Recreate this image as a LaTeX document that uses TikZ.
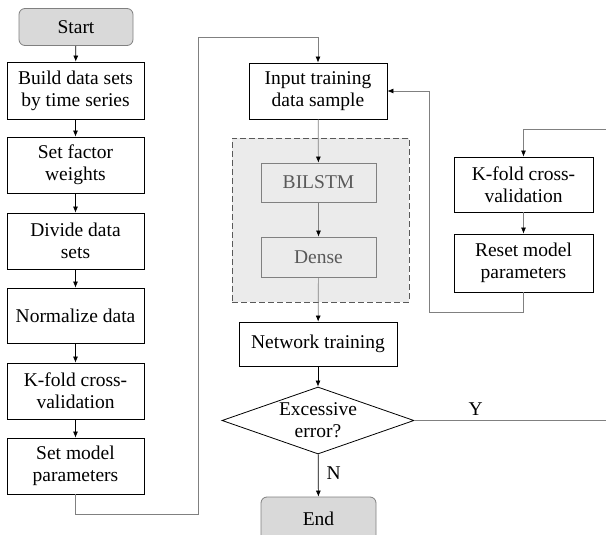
\documentclass[tikz,border=0pt]{standalone}
\usepackage{fontspec}
\setmainfont{Liberation Serif}
\usetikzlibrary{shapes.geometric,arrows.meta}
\definecolor{lgray}{HTML}{D9D9D9}
\definecolor{rgray}{HTML}{EBEBEB}
\definecolor{mgray}{HTML}{808080}
\definecolor{dgray}{HTML}{595959}
\tikzset{
  every node/.style={font=\fontsize{19.5}{22}\selectfont},
  box/.style={draw=black, line width=0.8pt, fill=white, align=center, inner sep=0pt, minimum width=137pt},
  term/.style={draw=mgray, line width=0.8pt, fill=lgray, rounded corners=6pt, align=center, inner sep=0pt},
  inner/.style={draw=mgray, line width=0.8pt, fill=rgray, text=dgray, align=center, inner sep=0pt, minimum width=115pt},
  arr/.style={draw=black, line width=0.7pt, -{Latex[length=6pt,width=5pt]}},
  garr/.style={draw=mgray, line width=0.7pt, -{Latex[length=6pt,width=5pt,color=black]}},
  gline/.style={draw=mgray, line width=0.7pt},
  lbl/.style={inner sep=0pt}
}
\begin{document}
\begin{tikzpicture}[x=1pt,y=-1pt]
\useasboundingbox (0,0) rectangle (606,535);
% left column
\node[term, minimum width=114pt, minimum height=37pt] (start) at (76,27) {Start};
\node[box, minimum height=57pt] (build) at (75.5,90.5) {Build data sets\\by time series};
\node[box, minimum height=56pt] (factor) at (75.5,165) {Set factor\\weights};
\node[box, minimum height=56pt] (divide) at (75.5,241) {Divide data\\sets};
\node[box, minimum height=55pt] (norm) at (75.5,315.5) {Normalize data};
\node[box, minimum height=56pt] (kfold) at (75.5,391) {K-fold cross-\\validation};
\node[box, minimum height=56pt] (setmodel) at (75.5,466) {Set model\\parameters};
% middle
\node[draw=dgray, dashed, dash pattern=on 6pt off 3pt, line width=0.8pt, fill=rgray, minimum width=177pt, minimum height=164pt, inner sep=0pt] (region) at (320.5,220) {};
\node[box, minimum width=138pt, minimum height=56pt] (input) at (318,91) {Input training\\data sample};
\node[inner, minimum height=39pt] (bilstm) at (318.5,182.5) {BILSTM};
\node[inner, minimum height=40pt] (dense) at (318.5,257) {Dense};
\node[box, minimum width=158pt, minimum height=44pt] (net) at (318,344) {Network training};
\node[draw=black, line width=0.8pt, fill=white, shape=diamond, aspect=2.87, inner sep=-4pt, minimum width=192pt, minimum height=67pt, align=center] (dec) at (318,420.5) {Excessive\\error?};
\node[term, minimum width=115pt, minimum height=44pt] (endn) at (318.5,519) {End};
% right
\node[box, minimum width=139pt, minimum height=55pt] (kfold2) at (523.5,184.5) {K-fold cross-\\validation};
\node[box, minimum width=139pt, minimum height=58pt] (reset) at (523.5,263) {Reset model\\parameters};
% coordinates
\coordinate (a1) at (75.5,514);
\coordinate (a2) at (198,514);
\coordinate (a3) at (198,37);
\coordinate (a4) at (318,37);
\coordinate (b1) at (523.5,312);
\coordinate (b2) at (429,312);
\coordinate (b3) at (429,91);
\coordinate (c1) at (606,129);
\coordinate (c2) at (523.5,129);
\coordinate (yend) at (606,420.5);
% left arrows
\draw[arr] (start) -- (build);
\draw[arr] (build) -- (factor);
\draw[arr] (factor) -- (divide);
\draw[arr] (divide) -- (norm);
\draw[arr] (norm) -- (kfold);
\draw[arr] (kfold) -- (setmodel);
\draw[garr] (setmodel.south) -- (a1) -- (a2) -- (a3) -- (a4) -- (input.north);
% middle arrows
\draw[garr] (input) -- (bilstm);
\draw[garr] (bilstm) -- (dense);
\draw[garr] (dense) -- (net);
\draw[arr] (net) -- (dec);
\draw[arr] (dec) -- (endn) node[lbl, pos=0.45, right=8pt] {N};
\draw[gline] (dec.east) -- (yend) node[lbl, pos=0.32, above=5pt] {Y};
% right arrows
\draw[garr] (c1) -- (c2) -- (kfold2.north);
\draw[garr] (kfold2) -- (reset);
\draw[garr] (reset.south) -- (b1) -- (b2) -- (b3) -- (input.east);
\end{tikzpicture}
\end{document}
